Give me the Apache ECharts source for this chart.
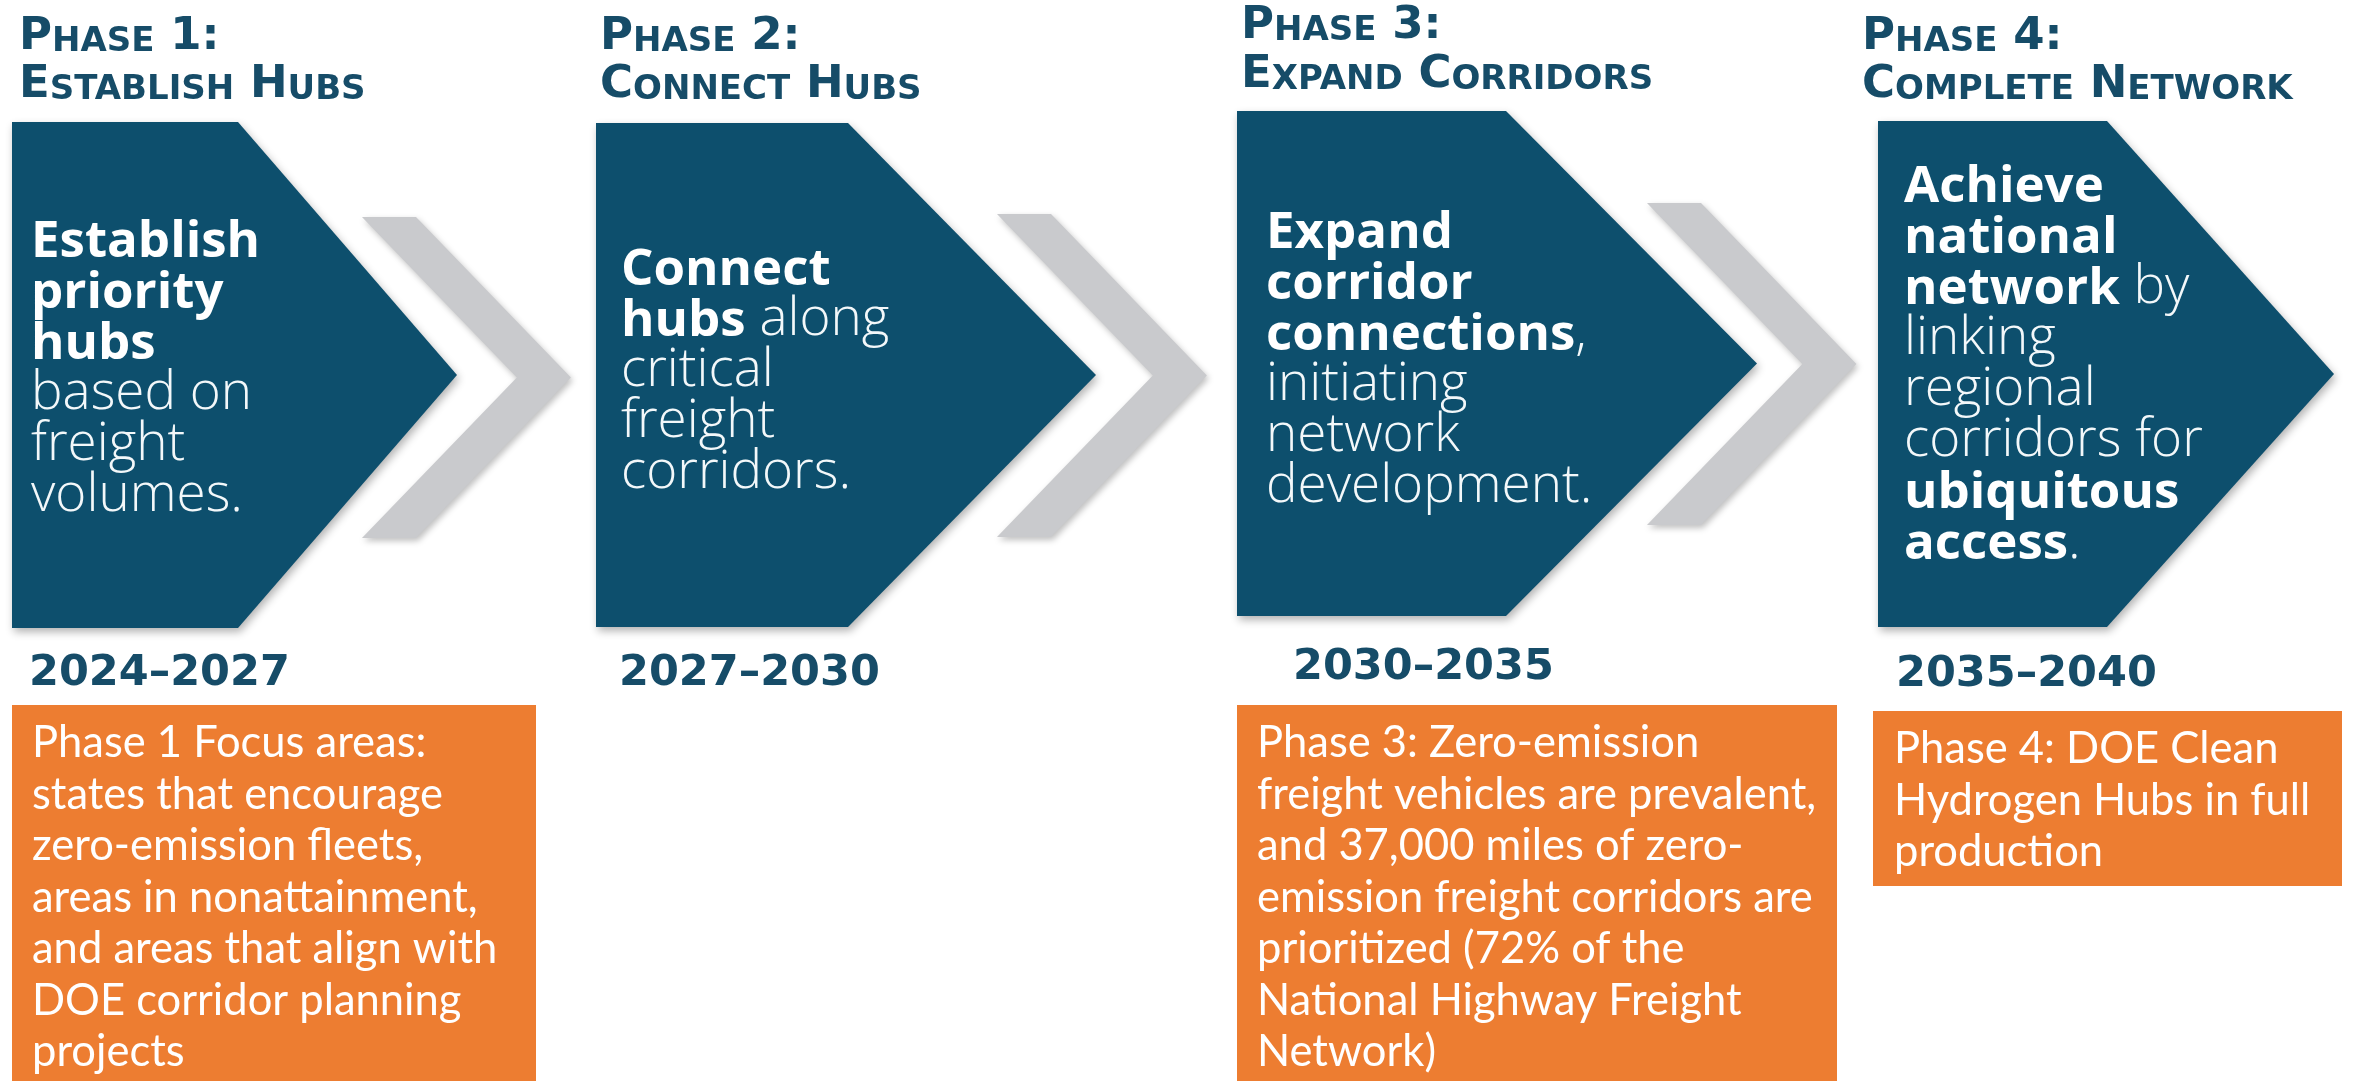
<!DOCTYPE html>
<html>
<head>
<meta charset="utf-8">
<title>Zero-emission freight corridor phases</title>
<script src="https://cdn.jsdelivr.net/npm/echarts@6/dist/echarts.min.js"></script>
<style>
  html, body { margin: 0; padding: 0; background: #fff; }
  #chart { width: 2354px; height: 1081px; }
</style>
</head>
<body>
<div id="chart"></div>
<script>
// ---- content ----
var phaseNumbers = ['1:', '2:', '3:', '4:']
var phaseNames = ['Establish Hubs', 'Connect Hubs', 'Expand Corridors', 'Complete Network']
var phaseYears = ['2024–2027', '2027–2030', '2030–2035', '2035–2040']

// arrow text: {b|..} bold, {r|..} regular
var phaseBlurbs = [
  ['{b|Establish}', '{b|priority}', '{b|hubs}', '{r|based on}', '{r|freight}', '{r|volumes.}'],
  ['{b|Connect}', '{b|hubs}{r| along}', '{r|critical}', '{r|freight}', '{r|corridors.}'],
  ['{b|Expand}', '{b|corridor}', '{b|connections}{r|,}', '{r|initiating}', '{r|network}', '{r|development.}'],
  ['{b|Achieve}', '{b|national}', '{b|network}{r| by}', '{r|linking}', '{r|regional}', '{r|corridors for}', '{b|ubiquitous}', '{b|access}{r|.}']
]

var phaseNotes = [
  ['Phase 1 Focus areas:', 'states that encourage', 'zero-emission fleets,', 'areas in nonattainment,', 'and areas that align with', 'DOE corridor planning', 'projects'],
  null,
  ['Phase 3: Zero-emission', 'freight vehicles are prevalent,', 'and 37,000 miles of zero-', 'emission freight corridors are', 'prioritized (72% of the', 'National Highway Freight', 'Network)'],
  ['Phase 4: DOE Clean', 'Hydrogen Hubs in full', 'production']
]

// ---- layout (px) ----
var arrows = [
  { left: 12, top: 122, bottom: 628, shoulder: 238, tip: 457 },
  { left: 596, top: 123, bottom: 627, shoulder: 848, tip: 1096 },
  { left: 1237, top: 111, bottom: 616, shoulder: 1506, tip: 1757 },
  { left: 1878, top: 121, bottom: 627, shoulder: 2107, tip: 2334 }
]
var chevrons = [
  { left: 362, top: 217, bottom: 538 },
  { left: 997, top: 214, bottom: 537 },
  { left: 1647, top: 203, bottom: 525 }
]
var titlePos = [[19, 37, 85], [600, 37, 85], [1241, 26, 75], [1862, 37, 85]]
var blurbPos = [[31, 242], [621, 270], [1266, 233], [1904, 187]]
var yearPos = [[29, 674], [619, 674], [1293, 668], [1896, 675]]
var notePos = [
  { x: 12, y: 705, w: 524, h: 376, tx: 32, ty: 743 },
  null,
  { x: 1237, y: 705, w: 600, h: 376, tx: 1257, ty: 743 },
  { x: 1873, y: 711, w: 469, h: 175, tx: 1894, ty: 749 }
]

var navy = '#0d4f6d'
var titleColor = '#164c68'
var gray = '#c9cacd'
var orange = '#ed7d31'

var headFont = 'DejaVu Sans'
var bodyFont = 'Open Sans'
var noteFont = 'Lato'

var chevronThick = 54
var blurbLine = 51
var noteLine = 51.5

// "Establish Hubs" -> {B|E}{S|STABLISH} {B|H}{S|UBS}
function smallCaps (str) {
  return str.split(' ').map(function (w) {
    var rest = w.slice(1).toUpperCase()
    return '{B|' + w.charAt(0).toUpperCase() + '}' + (rest ? '{S|' + rest + '}' : '')
  }).join('{B| }')
}

var capsRich = {
  B: { fontFamily: headFont, fontWeight: 'bold', fontSize: 45, fill: titleColor, verticalAlign: 'bottom' },
  S: { fontFamily: headFont, fontWeight: 'bold', fontSize: 34, fill: titleColor, verticalAlign: 'bottom' }
}

var elements = []

arrows.forEach(function (a, i) {
  var mid = (a.top + a.bottom) / 2
  elements.push({
    type: 'polygon',
    shape: { points: [[a.left, a.top], [a.shoulder, a.top], [a.tip, mid], [a.shoulder, a.bottom], [a.left, a.bottom]] },
    style: { fill: navy, shadowBlur: 8, shadowOffsetX: 2, shadowOffsetY: 4, shadowColor: 'rgba(0,0,0,0.3)' }
  })

  var tp = titlePos[i]
  elements.push({
    type: 'text', x: tp[0], y: tp[1],
    style: { text: smallCaps('Phase') + '{B| ' + phaseNumbers[i] + '}', rich: capsRich, align: 'left', verticalAlign: 'middle', textAlign: 'left', textVerticalAlign: 'middle' }
  })
  elements.push({
    type: 'text', x: tp[0], y: tp[2],
    style: { text: smallCaps(phaseNames[i]), rich: capsRich, align: 'left', verticalAlign: 'middle', textAlign: 'left', textVerticalAlign: 'middle' }
  })

  var bp = blurbPos[i]
  elements.push({
    type: 'text', x: bp[0], y: bp[1] - blurbLine / 2,
    style: {
      text: phaseBlurbs[i].join('\n'),
      align: 'left', verticalAlign: 'top', textAlign: 'left', textVerticalAlign: 'top',
      lineHeight: blurbLine,
      rich: {
        b: { fontFamily: bodyFont, fontWeight: 'bold', fontSize: 51, lineHeight: blurbLine, fill: '#ffffff', verticalAlign: 'bottom' },
        r: { fontFamily: bodyFont, fontWeight: 300, fontSize: 53, lineHeight: blurbLine, fill: '#f3f8fa', verticalAlign: 'bottom' }
      }
    }
  })

  var yp = yearPos[i]
  elements.push({
    type: 'text', x: yp[0], y: yp[1],
    style: { text: phaseYears[i], fontFamily: headFont, fontWeight: 'bold', fontSize: 43, fill: titleColor, align: 'left', verticalAlign: 'middle', textAlign: 'left', textVerticalAlign: 'middle' }
  })

  var np = notePos[i]
  if (np && phaseNotes[i]) {
    elements.push({
      type: 'rect',
      shape: { x: np.x, y: np.y, width: np.w, height: np.h },
      style: { fill: orange }
    })
    elements.push({
      type: 'text', x: np.tx, y: np.ty - noteLine / 2,
      style: {
        text: phaseNotes[i].join('\n'),
        fontFamily: noteFont, fontSize: 43.5, lineHeight: noteLine, fill: '#ffffff',
        align: 'left', verticalAlign: 'top', textAlign: 'left', textVerticalAlign: 'top'
      }
    })
  }
})

chevrons.forEach(function (c) {
  var mid = (c.top + c.bottom) / 2
  var half = (c.bottom - c.top) / 2
  var outer = c.left + chevronThick + half * 0.965
  var inner = outer - chevronThick
  elements.push({
    type: 'polygon',
    shape: {
      points: [[c.left, c.top], [c.left + chevronThick, c.top], [outer, mid],
        [c.left + chevronThick, c.bottom], [c.left, c.bottom], [inner, mid]]
    },
    style: { fill: gray, shadowBlur: 6, shadowOffsetX: 2, shadowOffsetY: 3, shadowColor: 'rgba(0,0,0,0.25)' }
  })
})

var chart = echarts.init(document.getElementById('chart'))
chart.setOption({
  backgroundColor: '#ffffff',
  animation: false,
  graphic: { elements: elements }
})
</script>
</body>
</html>
